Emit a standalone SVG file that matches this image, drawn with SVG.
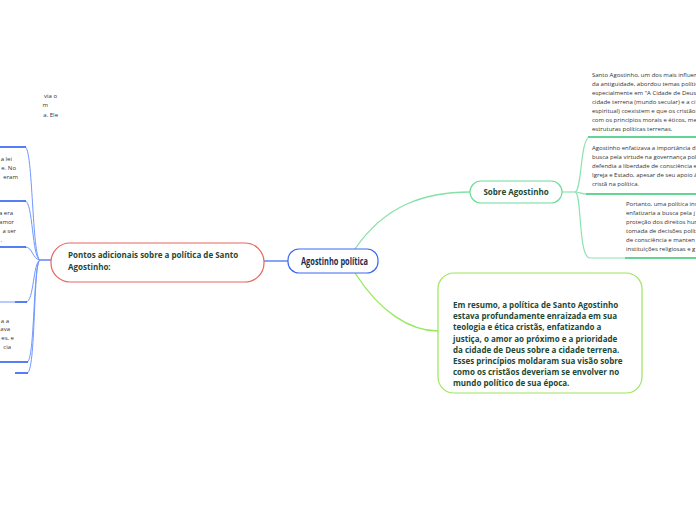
<svg xmlns="http://www.w3.org/2000/svg" width="696" height="520" viewBox="0 0 696 520">
<style>
.small{font-family:"Open Sans","Liberation Sans",sans-serif;font-size:6px;fill:#333;}
.bold{font-family:"Open Sans","Liberation Sans",sans-serif;font-weight:bold;fill:#1d4a35;}
.blue{fill:none;stroke:#7097ff;stroke-width:1;}
.blueu{fill:none;stroke:#2d5ff0;stroke-width:1.6;}
.green{fill:none;stroke:#8de3b0;stroke-width:1.2;}
.greenu{fill:none;stroke:#62d493;stroke-width:1.8;}
</style>
<rect width="696" height="520" fill="#ffffff"/>
<g id="connectors">
  <line x1="264" y1="261" x2="288" y2="261" stroke="#3a68f0" stroke-width="1.2"/>
  <line x1="40" y1="260" x2="51" y2="260" stroke="#3a68f0" stroke-width="1.2"/>
  <path class="blue" d="M25,147 C33,147 32,258 40,260"/>
  <path class="blue" d="M25,201 C33,201 32,258 40,260"/>
  <path class="blue" d="M25,247 C33,247 32,259 40,260"/>
  <path class="blue" d="M26,302 C34,302 33,262 40,260"/>
  <path class="blue" d="M27,362 C35,362 33,262 40,260"/>
  <path class="blue" d="M27,373 C36,373 33,262 40,260"/>
  <path class="blueu" d="M0,147 H26"/>
  <path class="blueu" d="M0,201 H26"/>
  <path class="blueu" d="M0,247 H26"/>
  <path class="blue" d="M0,302 H15"/>
  <path class="blueu" d="M15,302 H27"/>
  <path class="blueu" d="M0,362 H28"/>
  <path class="blueu" d="M15,373 H28"/>
  <path d="M355,249 C385,205 425,192 470,192" fill="none" stroke="#86e0a8" stroke-width="1.3"/>
  <path d="M355,273 C380,312 410,331 438,331" fill="none" stroke="#97e85a" stroke-width="1.3"/>
  <path class="green" d="M562,192 H575"/>
  <path class="green" d="M575,192 C582,192 580,137 590,137"/>
  <path class="green" d="M575,192 C580,192 580,194 588,194"/>
  <path class="green" d="M575,192 C582,192 578,258 590,258 H625"/>
  <path class="greenu" d="M588,137 H696"/>
  <path class="greenu" d="M586,194 H696"/>
  <path class="greenu" d="M625,258 H696"/>
</g>
<g id="left-texts">
  <text class="small" text-anchor="end" x="57" y="98">via o</text>
  <text class="small" text-anchor="end" x="48" y="107">m</text>
  <text class="small" text-anchor="end" x="58" y="117">a. Ele</text>
  <text class="small" text-anchor="end" x="12" y="161">a lei</text>
  <text class="small" text-anchor="end" x="16" y="170">e. No</text>
  <text class="small" text-anchor="end" x="18" y="179">eram</text>
  <text class="small" text-anchor="end" x="13" y="215">a era</text>
  <text class="small" text-anchor="end" x="14" y="224">amor</text>
  <text class="small" text-anchor="end" x="16" y="233">a ser</text>
  <text class="small" text-anchor="end" x="2" y="242">.</text>
  <text class="small" text-anchor="end" x="9" y="323">a a</text>
  <text class="small" text-anchor="end" x="10" y="331">ava</text>
  <text class="small" text-anchor="end" x="14" y="340">es, e</text>
  <text class="small" text-anchor="end" x="11" y="349">cia</text>
</g>
<g id="node-pontos">
  <rect x="51" y="243" width="213" height="39" rx="19" fill="#fff" stroke="#e8665c" stroke-width="1.2"/>
  <text class="bold" font-size="8" x="68" y="258">Pontos adicionais sobre a política de Santo</text>
  <text class="bold" font-size="8" x="68" y="270">Agostinho:</text>
</g>
<g id="node-central">
  <rect x="288" y="249" width="90" height="24" rx="11" fill="#fff" stroke="#3a68f0" stroke-width="1.2"/>
  <text font-family="Open Sans, Liberation Sans, sans-serif" font-weight="bold" font-size="10.5" fill="#1b2c56" x="301" y="265" textLength="67" lengthAdjust="spacingAndGlyphs">Agostinho política</text>
</g>
<g id="node-sobre">
  <rect x="470" y="181" width="92" height="22" rx="11" fill="#fff" stroke="#6fdc9c" stroke-width="1.2"/>
  <text class="bold" font-size="8" x="516" y="195" text-anchor="middle">Sobre Agostinho</text>
</g>
<g id="node-santo">
  <text class="small" x="592" y="77">Santo Agostinho, um dos mais influen</text>
  <text class="small" x="592" y="86">da antiguidade, abordou temas polític</text>
  <text class="small" x="592" y="95">especialmente em "A Cidade de Deus</text>
  <text class="small" x="592" y="104">cidade terrena (mundo secular) e a ci</text>
  <text class="small" x="592" y="113">espiritual) coexistem e que os cristãos</text>
  <text class="small" x="592" y="122">com os princípios morais e éticos, me</text>
  <text class="small" x="592" y="131">estruturas políticas terrenas.</text>
</g>
<g id="node-enfatizava">
  <text class="small" x="592" y="150">Agostinho enfatizava a importância d</text>
  <text class="small" x="592" y="159">busca pela virtude na governança pol</text>
  <text class="small" x="592" y="168">defendia a liberdade de consciência e</text>
  <text class="small" x="592" y="177">Igreja e Estado, apesar de seu apoio à</text>
  <text class="small" x="592" y="186">cristã na política.</text>
</g>
<g id="node-portanto">
  <text class="small" x="626" y="206">Portanto, uma política ins</text>
  <text class="small" x="626" y="215">enfatizaria a busca pela j</text>
  <text class="small" x="626" y="224">proteção dos direitos hum</text>
  <text class="small" x="626" y="233">tomada de decisões polít</text>
  <text class="small" x="626" y="242">de consciência e manten</text>
  <text class="small" x="626" y="251">instituições religiosas e g</text>
</g>
<g id="node-resumo">
  <rect x="438" y="273" width="204" height="120" rx="16" fill="#fff" stroke="#9de65e" stroke-width="1.2"/>
  <text class="bold" font-size="8" x="453" y="308">Em resumo, a política de Santo Agostinho</text>
  <text class="bold" font-size="8" x="453" y="319.2">estava profundamente enraizada em sua</text>
  <text class="bold" font-size="8" x="453" y="330.4">teologia e ética cristãs, enfatizando a</text>
  <text class="bold" font-size="8" x="453" y="341.6">justiça, o amor ao próximo e a prioridade</text>
  <text class="bold" font-size="8" x="453" y="352.8">da cidade de Deus sobre a cidade terrena.</text>
  <text class="bold" font-size="8" x="453" y="364">Esses princípios moldaram sua visão sobre</text>
  <text class="bold" font-size="8" x="453" y="375.2">como os cristãos deveriam se envolver no</text>
  <text class="bold" font-size="8" x="453" y="386.4">mundo político de sua época.</text>
</g>
</svg>
